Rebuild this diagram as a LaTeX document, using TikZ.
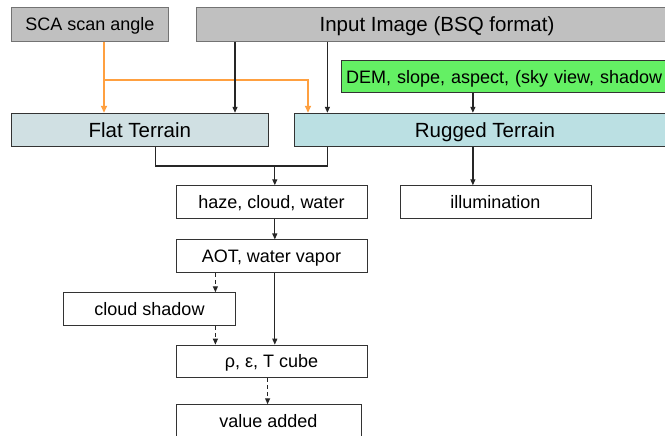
\documentclass[tikz,border=0pt]{standalone}
\usepackage{fontspec}
\setmainfont{Liberation Sans}
\usetikzlibrary{arrows.meta}

\definecolor{boxgray}{RGB}{192,192,192}
\definecolor{demgreen}{RGB}{100,240,100}
\definecolor{flatblue}{RGB}{208,224,227}
\definecolor{rugblue}{RGB}{187,224,227}
\definecolor{scaorange}{RGB}{255,160,64}

\tikzset{
  box/.style={draw=black!80, line width=1pt, rectangle, inner sep=0pt, text depth=0pt, minimum height=32.5pt, font=\fontsize{18}{20}\selectfont},
  bigbox/.style={box, minimum height=33pt, font=\fontsize{20.5}{23}\selectfont},
  flow/.style={line width=1.2pt, black!85, -{Triangle[length=6pt,width=5pt]}},
  optflow/.style={flow, dash pattern=on 4pt off 3pt},
  angleflow/.style={line width=1.6pt, scaorange, -{Triangle[length=7pt,width=6pt]}}
}

\begin{document}
\begin{tikzpicture}[x=1pt, y=-1pt]
  \useasboundingbox (0,0) rectangle (665,436);

  % Inputs
  \node[box, fill=boxgray, draw=black!55, minimum width=157pt, minimum height=33.5pt] (sca) at (90,24.3) {SCA scan angle};
  \node[bigbox, fill=boxgray, draw=black!55, minimum width=482pt, minimum height=33.5pt] (input) at (437,24.3) {Input Image (BSQ format)};
  \node[box, fill=demgreen, anchor=west, text width=350pt, align=left, inner xsep=5pt, minimum height=32pt] (dem) at (340.6,77) {DEM, slope, aspect, (sky view, shadow};

  % Terrain branches
  \node[bigbox, fill=flatblue, minimum width=256.5pt] (flat) at (139.8,129.8) {Flat Terrain};
  \node[bigbox, fill=rugblue, minimum width=381.4pt] (rugged) at (485,129.8) {Rugged Terrain};

  % Processing steps
  \node[box, minimum width=191pt] (haze) at (271.5,202) {haze, cloud, water};
  \node[box, minimum width=191pt] (illum) at (495.5,202) {illumination};
  \node[box, minimum width=191pt] (aot) at (271.5,256.2) {AOT, water vapor};
  \node[box, minimum width=172pt] (shadow) at (149.5,309) {cloud shadow};
  \node[box, minimum width=191pt] (cube) at (271.5,361.4) {ρ, ε, T cube};
  \node[box, minimum width=185pt] (value) at (268.5,421) {value added};

  % Columns of the connectors
  \coordinate (c1) at (235,0);
  \coordinate (c2) at (327.4,0);
  \coordinate (c3) at (472.9,0);
  \coordinate (c4) at (155.6,0);
  \coordinate (c5) at (274.8,166);
  \coordinate (c6) at (215.4,0);
  \coordinate (c7) at (267.6,0);
  \coordinate (o1) at (104,80.3);
  \coordinate (o2) at (308,80.3);

  % Scan angle (orange)
  \draw[angleflow] (sca.south -| o1) -- (flat.north -| o1);
  \draw[angleflow] (o1) -- (o2) -- (rugged.north -| o2);

  % Image and terrain data
  \draw[flow] (input.south -| c1) -- (flat.north -| c1);
  \draw[flow] (input.south -| c2) -- (rugged.north -| c2);
  \draw[flow] (dem.south -| c3) -- (rugged.north -| c3);

  % Both branches join
  \draw[line width=1.2pt, black!85] (flat.south -| c4) -- (c4 |- c5) -- (c2 |- c5) -- (rugged.south -| c2);
  \draw[flow] (c5) -- (haze.north -| c5);
  \draw[flow] (rugged.south -| c3) -- (illum.north -| c3);

  % Main chain
  \draw[flow] (haze.south -| c5) -- (aot.north -| c5);
  \draw[flow] (aot.south -| c5) -- (cube.north -| c5);
  \draw[optflow] (aot.south -| c6) -- (shadow.north -| c6);
  \draw[optflow] (shadow.south -| c6) -- (cube.north -| c6);
  \draw[optflow] (cube.south -| c7) -- (value.north -| c7);
\end{tikzpicture}
\end{document}
